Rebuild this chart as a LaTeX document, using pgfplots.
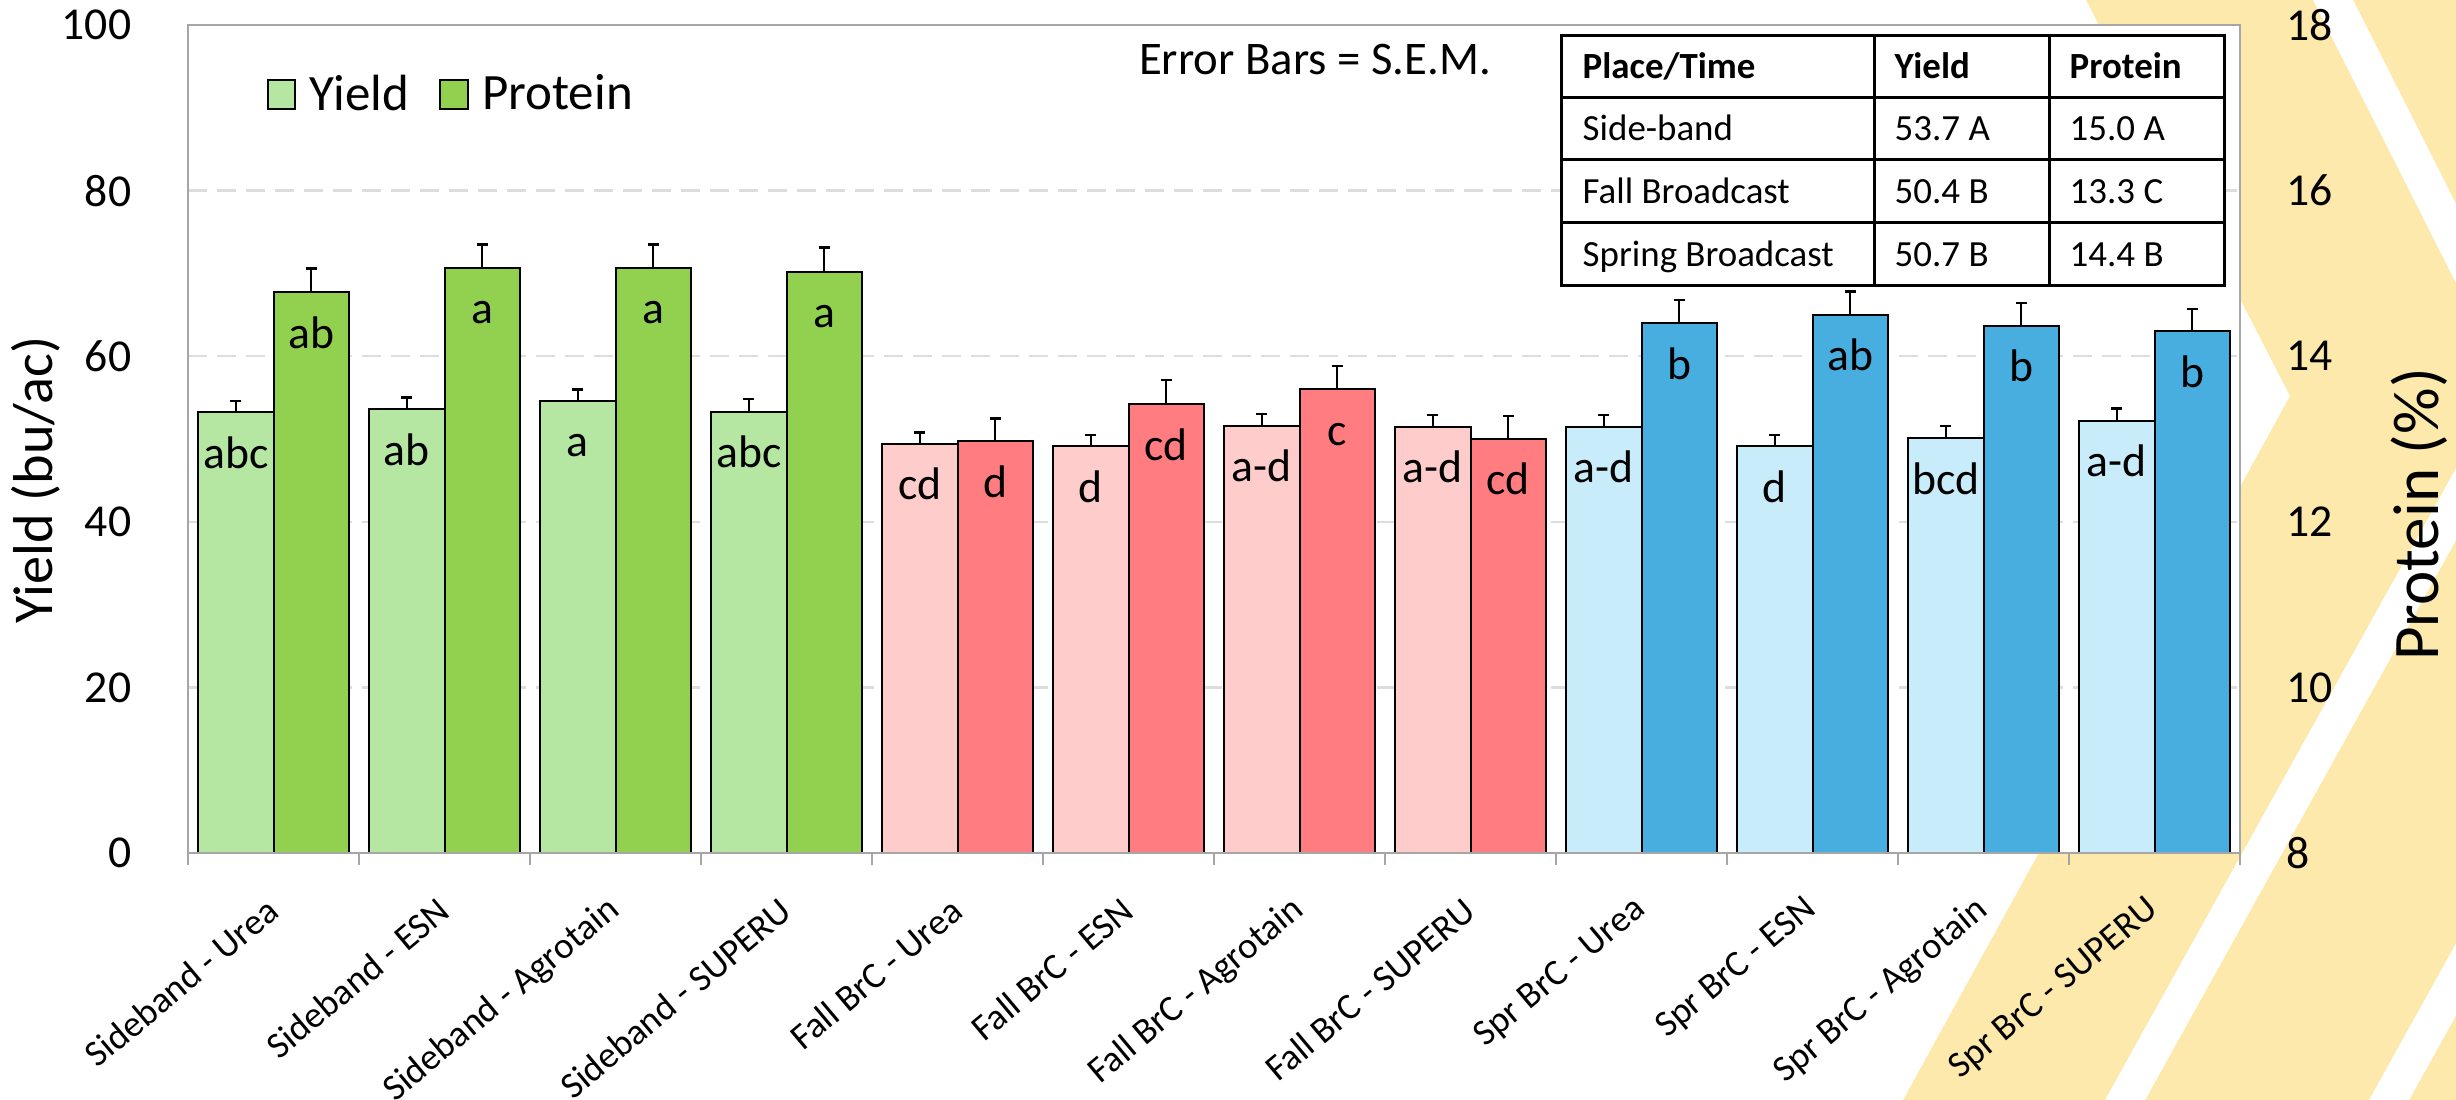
\documentclass[border=0pt]{standalone}
\usepackage{fontspec}
\setmainfont{Carlito}
\usepackage{pgfplots}
\pgfplotsset{compat=1.18}
\definecolor{ylg}{HTML}{B5E6A2}
\definecolor{pdg}{HTML}{92D050}
\definecolor{ylr}{HTML}{FFCCCC}
\definecolor{pdr}{HTML}{FF7C80}
\definecolor{ylb}{HTML}{C9ECFA}
\definecolor{pdb}{HTML}{47AEDF}
\definecolor{bgy}{HTML}{FDE9AC}
\definecolor{axg}{HTML}{A6A6A6}
\definecolor{grd}{HTML}{DDDDDD}
\pgfplotsset{
  sqlegend/.style={legend image code/.code={\draw[##1,draw=black,line width=0.2mm] (0mm,-1.45mm) rectangle (2.75mm,1.45mm); \path (3.3mm,0mm);}},
  barlab/.style={nodes near coords, point meta=explicit symbolic,
    every node near coord/.append style={anchor=base, yshift=-5.6mm, font=\fontsize{13pt}{15pt}\selectfont, text=black, inner sep=0pt}},
  errs/.style={error bars/.cd, y dir=plus, y explicit, error bar style={black,line width=0.25mm}, error mark options={rotate=90,black,line width=0.25mm,mark size=0.55mm}},
  common/.style={scale only axis, width=205.2mm, height=82.8mm, at={(18.8mm,24.7mm)}, anchor=south west,
    xmin=-0.5, xmax=11.5, ybar, bar width=0.44,
    /pgf/number format/assume math mode=true,
    axis line style={axg, line width=0.25mm},
    tick label style={font=\fontsize{13pt}{15pt}\selectfont},
    ytick style={draw=none}},
}
\begin{document}
\begin{tikzpicture}
\path[use as bounding box] (0,0) rectangle (245.6mm,110mm);
\begin{scope}[shift={(0mm,110mm)}, x=0.1mm, y=-0.1mm]
  \clip (0,0) rectangle (2456,1100);
  \fill[bgy] (2086,0) -- (2290,396) -- (1903,1100) -- (2456,1100) -- (2456,0) -- cycle;
  \fill[white] (2313,0) -- (2505,380) -- (2105,1100) -- (2145,1100) -- (2545,380) -- (2353,0) -- cycle;
  \fill[white] (2369,1100) -- (2769,380) -- (2809,380) -- (2409,1100) -- cycle;
\end{scope}

\begin{axis}[common,
  axis background/.style={fill=white},
  ymin=0, ymax=100, ytick={0,20,...,100},
  ymajorgrids, grid style={grd, line width=0.25mm, dash pattern=on 1.9mm off 1mm},
  xtick={-0.5,0.5,...,11.5}, x tick label as interval,
  xtick pos=bottom, tick align=outside,
  xtick style={axg, line width=0.25mm}, major tick length=1.2mm,
  xticklabels={Sideband - Urea, Sideband - ESN, Sideband - Agrotain, Sideband - SUPERU, Fall BrC - Urea, Fall BrC - ESN, Fall BrC - Agrotain, Fall BrC - SUPERU, Spr BrC - Urea, Spr BrC - ESN, Spr BrC - Agrotain, Spr BrC - SUPERU},
  xticklabel style={yshift=-4.0mm, rotate=40, anchor=east, inner sep=0pt, font=\fontsize{10.5pt}{12pt}\selectfont},
  yticklabel style={anchor=east, inner sep=0pt, xshift=-4.4mm},
  ylabel={Yield (bu/ac)},
  ylabel style={at={(axis description cs:-0.0658,0.4505)}, anchor=base, inner sep=0pt, font=\fontsize{16pt}{18pt}\selectfont},
]
\addplot[bar shift=-0.22, fill=ylg, draw=black, line width=0.2mm, barlab, errs]
  table[x=x, y=y, y error=e, meta=l] {
x y e l
0 53.2 1.4 abc
1 53.6 1.4 ab
2 54.6 1.4 a
3 53.3 1.5 abc
};
\addplot[bar shift=-0.22, fill=ylr, draw=black, line width=0.2mm, barlab, errs]
  table[x=x, y=y, y error=e, meta=l] {
x y e l
4 49.4 1.4 cd
5 49.1 1.4 d
6 51.6 1.4 a-d
7 51.5 1.4 a-d
};
\addplot[bar shift=-0.22, fill=ylb, draw=black, line width=0.2mm, barlab, errs]
  table[x=x, y=y, y error=e, meta=l] {
x y e l
8 51.5 1.4 a-d
9 49.1 1.4 d
10 50.1 1.45 bcd
11 52.2 1.5 a-d
};
\end{axis}

\begin{axis}[common,
  ymin=8, ymax=18, ytick={8,10,...,18},
  axis x line*=bottom, axis y line*=right, xtick=\empty,
  axis on top,
  yticklabel style={anchor=west, inner sep=0pt, xshift=4.6mm},
  ylabel={Protein (\%)},
  ylabel style={at={(axis description cs:1.0965,0.4088)}, anchor=base, inner sep=0pt, font=\fontsize{18.5pt}{21pt}\selectfont},
  legend style={at={(axis description cs:0.033,0.9155)}, anchor=west, draw=none, fill=none,
    font=\fontsize{14.5pt}{16pt}\selectfont, legend columns=2,
    nodes={inner xsep=0.8mm, inner ysep=0.5mm},
    /tikz/every even column/.append style={column sep=2.2mm}},
  legend cell align=left,
]
\addlegendimage{sqlegend, fill=ylg}
\addlegendentry{Yield}
\addplot[bar shift=0.22, fill=pdg, draw=black, line width=0.2mm, sqlegend, barlab, errs]
  table[x=x, y=y, y error=e, meta=l] {
x y e l
0 14.77 0.29 ab
1 15.07 0.28 a
2 15.07 0.28 a
3 15.02 0.29 a
};
\addlegendentry{Protein}
\addplot[bar shift=0.22, fill=pdr, draw=black, line width=0.2mm, forget plot, barlab, errs]
  table[x=x, y=y, y error=e, meta=l] {
x y e l
4 12.97 0.28 d
5 13.42 0.29 cd
6 13.60 0.28 c
7 13.00 0.28 cd
};
\addplot[bar shift=0.22, fill=pdb, draw=black, line width=0.2mm, forget plot, barlab, errs]
  table[x=x, y=y, y error=e, meta=l] {
x y e l
8 14.40 0.28 b
9 14.50 0.28 ab
10 14.37 0.27 b
11 14.30 0.27 b
};
\end{axis}

\begin{scope}[shift={(0mm,110mm)}, x=0.1mm, y=-0.1mm]
  \node[font=\fontsize{13.3pt}{15pt}\selectfont, inner sep=0pt] at (1315,60) {Error Bars = S.E.M.};
  \fill[white] (1561,36) rectangle (2224,286);
  \draw[line width=0.3mm] (1561,36) rectangle (2224,286);
  \draw[line width=0.3mm] (1874,36)--(1874,286) (2049,36)--(2049,286)
    (1561,98)--(2224,98) (1561,160)--(2224,160) (1561,223)--(2224,223);
  \begin{scope}[every node/.style={anchor=base west, inner sep=0pt, font=\fontsize{10.5pt}{12pt}\selectfont}]
    \node at (1582,79) {\bfseries Place/Time};
    \node at (1894,79) {\bfseries Yield};
    \node at (2069,79) {\bfseries Protein};
    \node at (1582,141) {Side-band};
    \node at (1894,141) {53.7 A};
    \node at (2069,141) {15.0 A};
    \node at (1582,203.5) {Fall Broadcast};
    \node at (1894,203.5) {50.4 B};
    \node at (2069,203.5) {13.3 C};
    \node at (1582,266.5) {Spring Broadcast};
    \node at (1894,266.5) {50.7 B};
    \node at (2069,266.5) {14.4 B};
  \end{scope}
\end{scope}
\end{tikzpicture}
\end{document}
